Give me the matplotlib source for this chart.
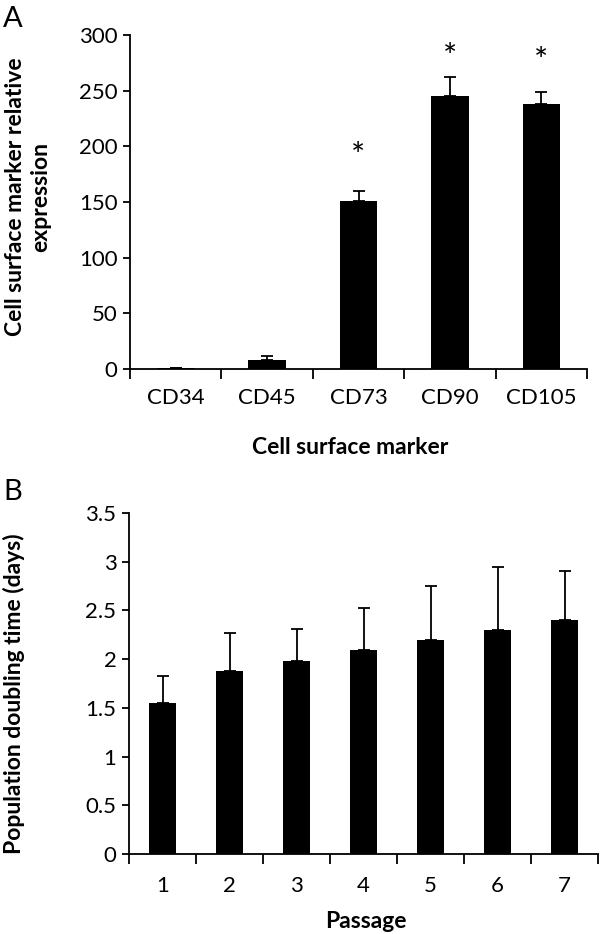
import matplotlib
matplotlib.use('Agg')
import matplotlib.pyplot as plt
import numpy as np

plt.rcParams['font.family'] = ['Lato', 'DejaVu Sans']

# Panel A data
markers = ['CD34', 'CD45', 'CD73', 'CD90', 'CD105']
expression = [1, 8, 151, 245, 238]
expression_err = [0, 4, 9, 17, 11]
star_pos = [None, None, 190, 279, 276]

# Panel B data
passages = ['1', '2', '3', '4', '5', '6', '7']
doubling_time = [1.55, 1.88, 1.98, 2.09, 2.20, 2.30, 2.40]
doubling_err = [0.28, 0.39, 0.33, 0.44, 0.55, 0.65, 0.50]

W, H = 600, 934
fig = plt.figure(figsize=(6, 9.34), dpi=100)


def style_axes(ax, n, ylim, yticks, yticklabels, pad):
    ax.spines['top'].set_visible(False)
    ax.spines['right'].set_visible(False)
    for s in ('left', 'bottom'):
        ax.spines[s].set_linewidth(1.3)
    ax.set_xlim(-0.5, n - 0.5)
    ax.set_ylim(*ylim)
    ax.set_yticks(yticks)
    ax.set_yticklabels(yticklabels, fontsize=16)
    ax.tick_params(axis='y', direction='out', length=5, width=1.3, pad=4)
    # category boundary ticks on the x axis
    ax.set_xticks(np.arange(n + 1) - 0.5, minor=True)
    ax.tick_params(axis='x', which='minor', direction='out', length=7, width=1.3)
    ax.tick_params(axis='x', which='major', length=0, pad=pad, labelsize=16)


# ---- Panel A ----
axA = fig.add_axes([130 / W, 1 - 369 / H, (587 - 130) / W, (369 - 35) / H])
x = np.arange(len(markers))
axA.bar(x, expression, width=0.41, color='black', zorder=3)
axA.errorbar(x, expression, yerr=[np.zeros(len(markers)), expression_err],
             fmt='none', ecolor='black', elinewidth=1.3, capsize=4, capthick=1.3, zorder=2)
for i, s in enumerate(star_pos):
    if s is not None:
        axA.text(i, s, '*', ha='center', va='center', fontsize=24)
style_axes(axA, len(markers), (0, 300), [0, 50, 100, 150, 200, 250, 300],
           ['0', '50', '100', '150', '200', '250', '300'], pad=14)
axA.set_xticks(x)
axA.set_xticklabels(markers)

# ---- Panel B ----
axB = fig.add_axes([129 / W, 1 - 854 / H, (598 - 129) / W, (854 - 513) / H])
xb = np.arange(len(passages))
axB.bar(xb, doubling_time, width=0.4, color='black', zorder=3)
axB.errorbar(xb, doubling_time, yerr=[np.zeros(len(passages)), doubling_err],
             fmt='none', ecolor='black', elinewidth=1.3, capsize=4, capthick=1.3, zorder=2)
style_axes(axB, len(passages), (0, 3.5), [0, 0.5, 1, 1.5, 2, 2.5, 3, 3.5],
           ['0', '0.5', '1', '1.5', '2', '2.5', '3', '3.5'], pad=16)
axB.set_xticks(xb)
axB.set_xticklabels(passages)

# labels
fig.text(3 / W, 1 - 27 / H, 'A', fontsize=21, ha='left', va='baseline')
fig.text(3 / W, 1 - 500 / H, 'B', fontsize=21, ha='left', va='baseline')
fig.text(28 / W, 1 - 197 / H, 'Cell surface marker relative\nexpression',
         rotation=90, ha='center', va='center', fontsize=16.5, fontweight='bold',
         linespacing=1.25)
fig.text(14 / W, 1 - 694 / H, 'Population doubling time (days)',
         rotation=90, ha='center', va='center', fontsize=16.5, fontweight='bold')
fig.text(350 / W, 1 - 447 / H, 'Cell surface marker', ha='center', va='center',
         fontsize=16.5, fontweight='bold')
fig.text(366 / W, 1 - 921 / H, 'Passage', ha='center', va='center',
         fontsize=16.5, fontweight='bold')

fig.savefig('out.png', dpi=100)
